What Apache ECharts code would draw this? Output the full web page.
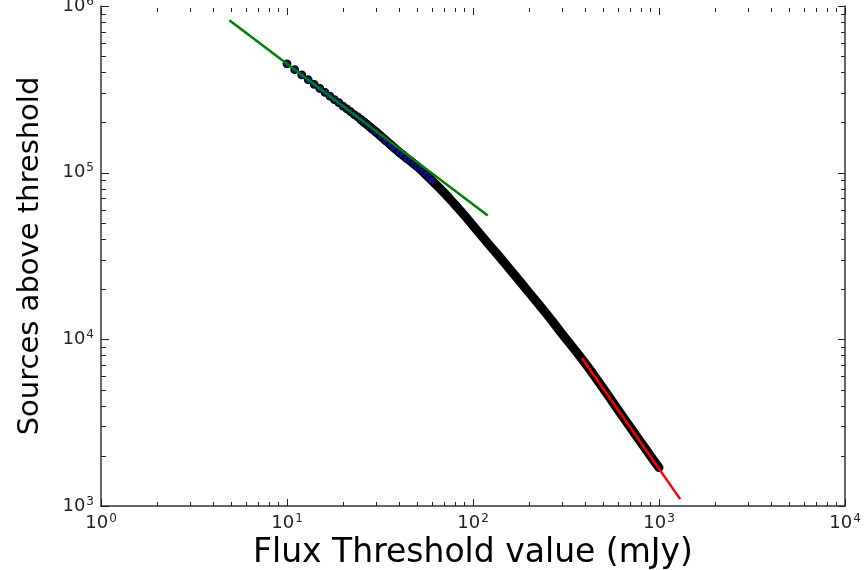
<!DOCTYPE html>
<html>
<head>
<meta charset="utf-8">
<script src="https://cdn.jsdelivr.net/npm/echarts@6/dist/echarts.min.js"></script>
<style>
  html, body { margin: 0; padding: 0; background: #fff; }
  #chart { width: 864px; height: 570px; }
</style>
</head>
<body>
<div id="chart"></div>
<script>
// individual measured points (sparse part of the curve)
const markerX = [10, 11, 12, 13, 14, 15, 16, 17, 18, 19, 20, 21, 22, 23, 24, 25, 26, 27, 28, 29, 30,
  32, 34, 36, 38, 40, 42, 44, 46, 48, 50, 52, 54, 56, 58, 60];
const markerY = [4.50e5, 4.15e5, 3.86e5, 3.61e5, 3.39e5, 3.20e5, 3.03e5, 2.88e5, 2.74e5, 2.63e5, 2.51e5,
  2.41e5, 2.32e5, 2.23e5, 2.16e5, 2.08e5, 2.01e5, 1.94e5, 1.87e5, 1.81e5, 1.76e5,
  1.65e5, 1.555e5, 1.47e5, 1.40e5, 1.33e5, 1.28e5, 1.22e5, 1.18e5, 1.13e5, 1.09e5,
  1.054e5, 1.01e5, 9.70e4, 9.33e4, 8.99e4];

// dense part of the curve (markers merge into a band)
const bandX = [25, 30, 40, 50, 60, 70, 80, 90, 100, 120, 150, 200, 250, 300, 400, 500, 600, 700, 800, 900, 1000];
const bandY = [2.08e5, 1.76e5, 1.33e5, 1.09e5, 8.99e4, 7.57e4, 6.43e4, 5.54e4, 4.81e4, 3.78e4, 2.82e4,
  1.91e4, 1.41e4, 1.085e4, 7.21e3, 5.10e3, 3.80e3, 2.97e3, 2.41e3, 2.00e3, 1.70e3];

// power-law fits
const greenX = [4.9, 120];
const greenY = [8.2e5, 5.53e4];
const redX = [385, 1300];
const redY = [7.72e3, 1.10e3];

// axis ranges and ticks
const xDecades = [1, 10, 100, 1000, 10000];
const yDecades = [1000, 10000, 100000, 1000000];
const minorSteps = [2, 3, 4, 5, 6, 7, 8, 9];

const FONT = 'DejaVu Sans';
const X_MIN = 1, X_MAX = 10000, Y_MIN = 1000, Y_MAX = 1000000;

const pairs = (xs, ys) => xs.map((x, i) => [x, ys[i]]);

// [value, dummy, tick length]
const xTicks = [];
xDecades.forEach((d) => {
  xTicks.push([d, Y_MIN, 7]);
  if (d < X_MAX) minorSteps.forEach((m) => xTicks.push([d * m, Y_MIN, 4]));
});
const yTicks = [];
yDecades.forEach((d) => {
  yTicks.push([X_MIN, d, 8]);
  if (d < Y_MAX) minorSteps.forEach((m) => yTicks.push([X_MIN, d * m, 5]));
});

const tickStyle = { stroke: '#222', lineWidth: 1 };
const crisp = (v) => Math.round(v) + 0.5;

const renderXTick = (params, api) => {
  const v = api.value(0);
  const len = api.value(2);
  const b = api.coord([v, Y_MIN]);
  const t = api.coord([v, Y_MAX]);
  const x = crisp(b[0]);
  return {
    type: 'group',
    children: [
      { type: 'line', shape: { x1: x, y1: b[1], x2: x, y2: b[1] - len }, style: tickStyle },
      { type: 'line', shape: { x1: x, y1: t[1] + 2, x2: x, y2: t[1] + 2 + len }, style: tickStyle },
    ],
  };
};

const renderYTick = (params, api) => {
  const v = api.value(1);
  const len = api.value(2);
  const l = api.coord([X_MIN, v]);
  const r = api.coord([X_MAX, v]);
  const y = crisp(l[1]);
  return {
    type: 'group',
    children: [
      { type: 'line', shape: { x1: l[0], y1: y, x2: l[0] + len, y2: y }, style: tickStyle },
      { type: 'line', shape: { x1: r[0], y1: y, x2: r[0] - len + 1, y2: y }, style: tickStyle },
    ],
  };
};

const powLabel = (v) => '{b|10}{s|' + Math.round(Math.log10(v)) + '}';
const labelRich = {
  b: { fontFamily: FONT, fontSize: 18, color: '#222' },
  s: { fontFamily: FONT, fontSize: 12, color: '#222', padding: [0, 0, 9, 1] },
};

const chart = echarts.init(document.getElementById('chart'));

chart.setOption({
  backgroundColor: '#fff',
  animation: false,
  grid: { left: 101, right: 19, top: 6, bottom: 64, outerBoundsMode: 'none', containLabel: false },
  xAxis: {
    type: 'log',
    logBase: 10,
    min: X_MIN,
    max: X_MAX,
    interval: 1,
    name: 'Flux Threshold value (mJy)',
    nameLocation: 'middle',
    nameGap: 30,
    nameTextStyle: { fontFamily: FONT, fontSize: 33, color: '#000' },
    axisLine: { show: true, lineStyle: { color: '#333', width: 1.5 } },
    axisTick: { show: false },
    splitLine: { show: false },
    minorTick: { show: false },
    axisLabel: { formatter: powLabel, rich: labelRich, margin: 7, showMinLabel: true, showMaxLabel: true },
  },
  yAxis: [
    {
      type: 'log',
      logBase: 10,
      min: Y_MIN,
      max: Y_MAX,
      interval: 1,
      name: 'Sources above threshold',
      nameLocation: 'middle',
      nameGap: 56,
      nameTextStyle: { fontFamily: FONT, fontSize: 29, color: '#000' },
      axisLine: { show: true, lineStyle: { color: '#333', width: 1.5 } },
      axisTick: { show: false },
      splitLine: { show: false },
      axisLabel: { formatter: powLabel, rich: labelRich, margin: 7, showMinLabel: true, showMaxLabel: true },
    },
    {
      type: 'log',
      logBase: 10,
      min: Y_MIN,
      max: Y_MAX,
      position: 'right',
      axisLine: { show: true, onZero: false, lineStyle: { color: '#333', width: 1.5 } },
      axisTick: { show: false },
      axisLabel: { show: false },
      splitLine: { show: false },
    },
  ],
  series: [
    {
      type: 'custom',
      silent: true,
      clip: false,
      renderItem: renderXTick,
      encode: { x: 0, y: 1 },
      data: xTicks,
      z: 5,
    },
    {
      type: 'custom',
      silent: true,
      clip: false,
      renderItem: renderYTick,
      encode: { x: 0, y: 1 },
      data: yTicks,
      z: 5,
    },
    {
      name: 'band',
      type: 'line',
      data: pairs(bandX, bandY),
      showSymbol: false,
      symbol: 'none',
      smooth: 0.5,
      lineStyle: { color: '#000', width: 9, cap: 'round', join: 'round' },
      z: 2,
    },
    {
      name: 'points',
      type: 'scatter',
      data: pairs(markerX, markerY),
      symbol: 'circle',
      symbolSize: 7.5,
      itemStyle: { color: '#10109a', borderColor: '#000', borderWidth: 1.3, opacity: 1 },
      z: 3,
    },
    {
      name: 'fit low',
      type: 'line',
      data: pairs(greenX, greenY),
      symbol: 'none',
      lineStyle: { color: '#008000', width: 2.5 },
      z: 4,
    },
    {
      name: 'fit high',
      type: 'line',
      data: pairs(redX, redY),
      symbol: 'none',
      lineStyle: { color: '#ff0000', width: 2.5 },
      z: 4,
    },
  ],
});
</script>
</body>
</html>
